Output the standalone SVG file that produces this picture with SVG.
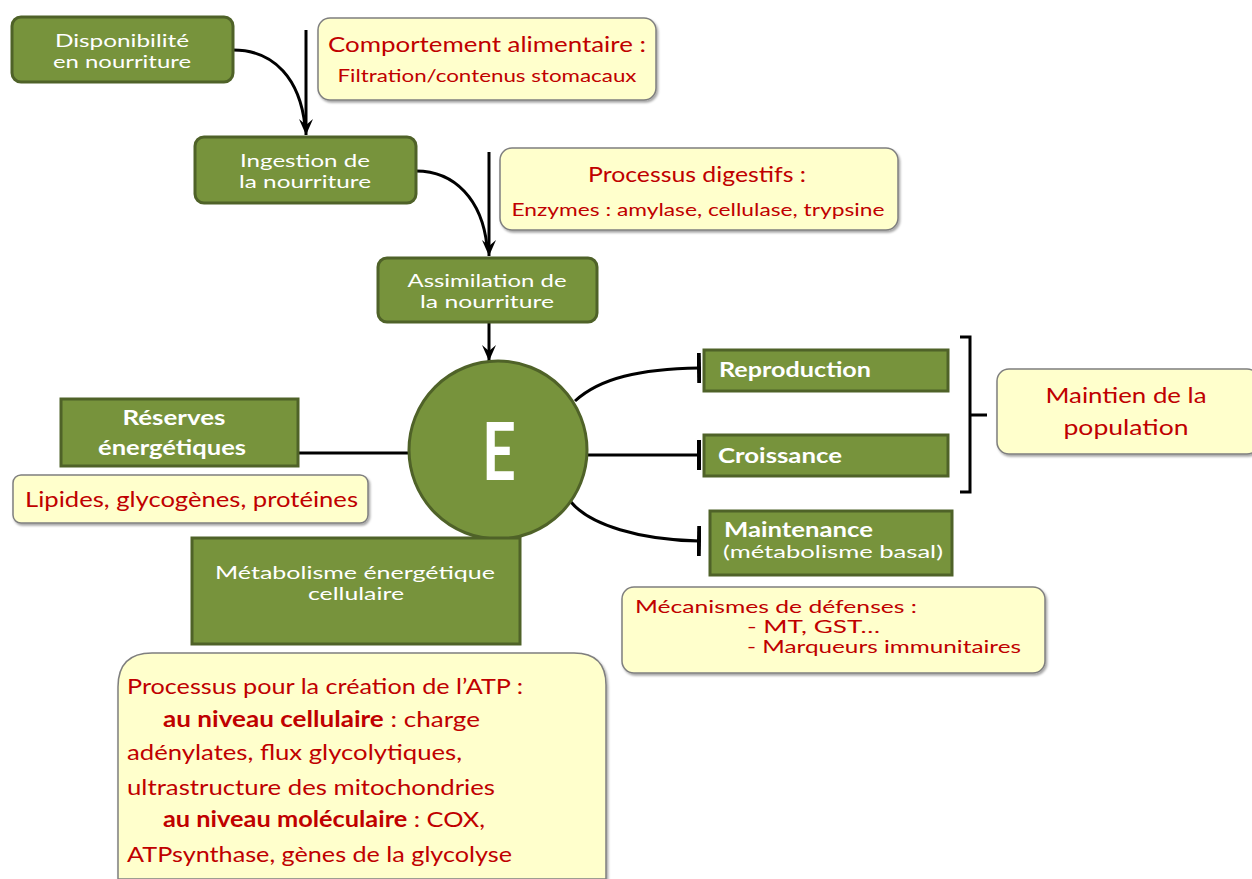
<svg xmlns="http://www.w3.org/2000/svg" width="1252" height="879" viewBox="0 0 1252 879">
<defs>
<filter id="sh" x="-5%" y="-5%" width="115%" height="120%">
<feDropShadow dx="1.5" dy="2" stdDeviation="1.2" flood-color="#000" flood-opacity="0.35"/>
</filter>
<marker id="arr" viewBox="0 0 18 14" refX="17" refY="7" markerWidth="18" markerHeight="14" markerUnits="userSpaceOnUse" orient="auto">
<path d="M1,0 L17,7 L1,14 L7,7 Z" fill="#000"/>
</marker>
<marker id="bar" viewBox="0 0 4 30" refX="2" refY="15" markerWidth="4" markerHeight="30" markerUnits="userSpaceOnUse" orient="auto">
<rect x="0" y="0" width="4" height="30" fill="#000"/>
</marker>
</defs>
<style>
.g{fill:#77933C;stroke:#4F6228;stroke-width:3}
.y{fill:#FFFFCC;stroke:#7F7F7F;stroke-width:1.5}
.wt{fill:#fff;font-family:Lato,"Liberation Sans",sans-serif;font-size:18px}
.wb{fill:#fff;font-family:Lato,"Liberation Sans",sans-serif;font-size:20px;font-weight:bold}
.rt{fill:#C00000;font-family:Lato,"Liberation Sans",sans-serif;font-size:22px}
.rs{fill:#C00000;font-family:Lato,"Liberation Sans",sans-serif;font-size:18px}
.c{stroke:#000;stroke-width:3;fill:none}
</style>

<g id="connectors">
<path class="c" d="M306,30 L306,135" marker-end="url(#arr)"/>
<path class="c" d="M233,50 C275,50 300,80 305,126"/>
<path class="c" d="M489,152 L489,256" marker-end="url(#arr)"/>
<path class="c" d="M416,171 C455,171 482,200 487,246"/>
<path class="c" d="M489,322 L489,361" marker-end="url(#arr)"/>
<path class="c" d="M299,453 L408,453"/>
<path class="c" d="M575,401 C600,378 640,369 699,368" marker-end="url(#bar)"/>
<path class="c" d="M588,455 L699,455" marker-end="url(#bar)"/>
<path class="c" d="M571,502 C590,525 640,540 699,541" marker-end="url(#bar)"/>
<path class="c" d="M960,337 L970,337 L970,492 L960,492 M970,415 L987,415"/>
</g>

<g id="disponibilite">
<rect class="g" x="12" y="17" width="221" height="65" rx="9"/>
<text class="wt" x="122" y="47" text-anchor="middle" textLength="134" lengthAdjust="spacingAndGlyphs">Disponibilité</text>
<text class="wt" x="122" y="68" text-anchor="middle" textLength="138" lengthAdjust="spacingAndGlyphs">en nourriture</text>
</g>

<g id="comportement">
<rect class="y" x="318" y="18" width="338" height="82" rx="12" filter="url(#sh)"/>
<text class="rt" x="487" y="52" text-anchor="middle" textLength="318" lengthAdjust="spacingAndGlyphs">Comportement alimentaire :</text>
<text class="rs" x="487" y="82" text-anchor="middle" textLength="299" lengthAdjust="spacingAndGlyphs">Filtration/contenus stomacaux</text>
</g>

<g id="ingestion">
<rect class="g" x="195" y="137" width="221" height="66" rx="9"/>
<text class="wt" x="305" y="167" text-anchor="middle" textLength="130" lengthAdjust="spacingAndGlyphs">Ingestion de</text>
<text class="wt" x="305" y="188" text-anchor="middle" textLength="132" lengthAdjust="spacingAndGlyphs">la nourriture</text>
</g>

<g id="digestifs">
<rect class="y" x="500" y="148" width="398" height="82" rx="12" filter="url(#sh)"/>
<text class="rt" x="697" y="182" text-anchor="middle" textLength="218" lengthAdjust="spacingAndGlyphs">Processus digestifs :</text>
<text class="rs" x="698" y="216" text-anchor="middle" textLength="373" lengthAdjust="spacingAndGlyphs">Enzymes : amylase, cellulase, trypsine</text>
</g>

<g id="assimilation">
<rect class="g" x="378" y="258" width="219" height="64" rx="9"/>
<text class="wt" x="487" y="287" text-anchor="middle" textLength="159" lengthAdjust="spacingAndGlyphs">Assimilation de</text>
<text class="wt" x="487" y="308" text-anchor="middle" textLength="134" lengthAdjust="spacingAndGlyphs">la nourriture</text>
</g>

<g id="E">
<circle cx="498" cy="450" r="89" fill="#77933C" stroke="#4F6228" stroke-width="3"/>
<text x="499" y="480" text-anchor="middle" fill="#fff" font-family="Lato,'Liberation Sans',sans-serif" font-weight="bold" font-size="80" textLength="34" lengthAdjust="spacingAndGlyphs">E</text>
</g>

<g id="reserves">
<rect class="g" x="61" y="399" width="237" height="67"/>
<text class="wb" x="174" y="425" text-anchor="middle" textLength="103" lengthAdjust="spacingAndGlyphs">Réserves</text>
<text class="wb" x="172" y="455" text-anchor="middle" textLength="148" lengthAdjust="spacingAndGlyphs">énergétiques</text>
</g>

<g id="lipides">
<rect class="y" x="13" y="475" width="355" height="48" rx="8" filter="url(#sh)"/>
<text class="rt" x="25" y="507" textLength="333" lengthAdjust="spacingAndGlyphs">Lipides, glycogènes, protéines</text>
</g>

<g id="metabolisme">
<rect class="g" x="192" y="538" width="328" height="106"/>
<text class="wt" x="355" y="579" text-anchor="middle" textLength="280" lengthAdjust="spacingAndGlyphs">Métabolisme énergétique</text>
<text class="wt" x="356" y="600" text-anchor="middle" textLength="96" lengthAdjust="spacingAndGlyphs">cellulaire</text>
</g>

<g id="atp">
<path class="y" d="M152,653 L574,653 Q606,653 606,685 L606,879 L118,879 L118,687 Q118,653 152,653 Z" filter="url(#sh)"/>
<text class="rt" font-size="23" x="127" y="694" textLength="396" lengthAdjust="spacingAndGlyphs">Processus pour la création de l’ATP :</text>
<text class="rt" font-size="23" x="163" y="727" textLength="317" lengthAdjust="spacingAndGlyphs"><tspan font-weight="bold">au niveau cellulaire</tspan> : charge</text>
<text class="rt" font-size="23" x="127" y="760" textLength="335" lengthAdjust="spacingAndGlyphs">adénylates, flux glycolytiques,</text>
<text class="rt" font-size="23" x="127" y="795" textLength="368" lengthAdjust="spacingAndGlyphs">ultrastructure des mitochondries</text>
<text class="rt" font-size="23" x="163" y="827" textLength="322" lengthAdjust="spacingAndGlyphs"><tspan font-weight="bold">au niveau moléculaire</tspan> : COX,</text>
<text class="rt" font-size="23" x="127" y="862" textLength="385" lengthAdjust="spacingAndGlyphs">ATPsynthase, gènes de la glycolyse</text>
</g>

<g id="reproduction">
<rect class="g" x="704" y="350" width="244" height="41"/>
<text class="wb" x="719" y="377" textLength="152" lengthAdjust="spacingAndGlyphs">Reproduction</text>
</g>

<g id="croissance">
<rect class="g" x="704" y="435" width="244" height="41"/>
<text class="wb" x="718" y="463" textLength="124" lengthAdjust="spacingAndGlyphs">Croissance</text>
</g>

<g id="maintenance">
<rect class="g" x="710" y="511" width="242" height="64"/>
<text class="wb" font-size="18" x="724" y="537" textLength="149" lengthAdjust="spacingAndGlyphs">Maintenance</text>
<text class="wt" x="723" y="558" textLength="220" lengthAdjust="spacingAndGlyphs">(métabolisme basal)</text>
</g>

<g id="maintien">
<rect class="y" x="997" y="369" width="262" height="85" rx="12" filter="url(#sh)"/>
<text class="rt" x="1126" y="403" text-anchor="middle" textLength="161" lengthAdjust="spacingAndGlyphs">Maintien de la</text>
<text class="rt" x="1126" y="435" text-anchor="middle" textLength="125" lengthAdjust="spacingAndGlyphs">population</text>
</g>

<g id="mecanismes">
<rect class="y" x="622" y="587" width="423" height="86" rx="12" filter="url(#sh)"/>
<text class="rs" font-size="19" x="635" y="613" textLength="282" lengthAdjust="spacingAndGlyphs">Mécanismes de défenses :</text>
<text class="rs" font-size="19" x="747" y="633" textLength="133" lengthAdjust="spacingAndGlyphs">- MT, GST…</text>
<text class="rs" font-size="19" x="747" y="653" textLength="274" lengthAdjust="spacingAndGlyphs">- Marqueurs immunitaires</text>
</g>
</svg>
